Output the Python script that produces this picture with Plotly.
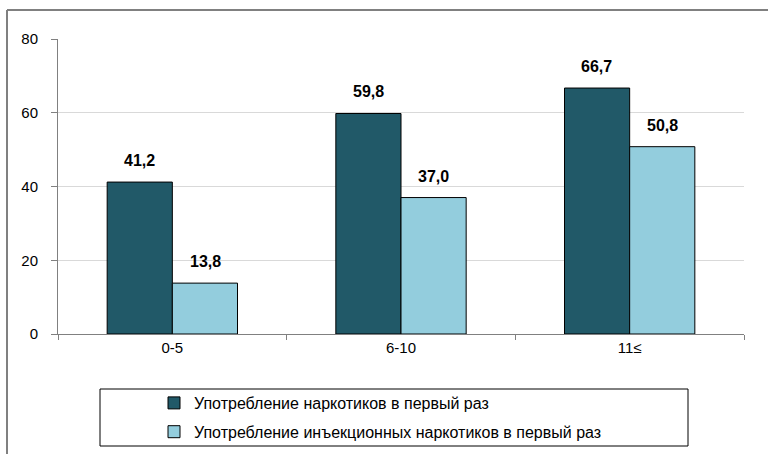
import plotly.graph_objects as go

# Categories (years of experience) and series values
categories = ["0-5", "6-10", "11≤"]
first_use = [41.2, 59.8, 66.7]
first_injection = [13.8, 37.0, 50.8]
series_names = [
    "Употребление наркотиков в первый раз",
    "Употребление инъекционных наркотиков в первый раз",
]
y_ticks = [0, 20, 40, 60, 80]

dark = "#215968"
light = "#93CDDD"
font_family = "Liberation Sans, Arial, sans-serif"

fig = go.Figure()
fig.add_trace(go.Bar(
    x=categories, y=first_use, name=series_names[0],
    marker=dict(color=dark, line=dict(color="#000000", width=1)),
    legendgroup="a",
))
fig.add_trace(go.Bar(
    x=categories, y=first_injection, name=series_names[1],
    marker=dict(color=light, line=dict(color="#000000", width=1)),
    legendgroup="b",
))

# Value labels above each bar
annotations = []
for offset, values in ((-0.143, first_use), (0.143, first_injection)):
    for i, v in enumerate(values):
        annotations.append(dict(
            x=i + offset, y=v, xref="x", yref="y",
            text=f"{v:.1f}".replace(".", ","),
            showarrow=False, yanchor="bottom", yshift=11,
            font=dict(family=font_family, size=16, color="#000000", weight="bold"),
        ))

fig.update_layout(
    width=768, height=454,
    margin=dict(l=58, r=24, t=39, b=120, autoexpand=False),
    paper_bgcolor="white", plot_bgcolor="white",
    barmode="group", bargap=0.43, bargroupgap=0,
    font=dict(family=font_family, size=15, color="#000000"),
    annotations=annotations,
    showlegend=True,
    legend=dict(
        x=(154 - 58) / 686, y=(334 - 386) / 295, xanchor="left", yanchor="top",
        bgcolor="rgba(0,0,0,0)", borderwidth=0,
        font=dict(family=font_family, size=16, color="#000000"),
        tracegroupgap=5, itemwidth=30,
    ),
    shapes=[
        # legend frame
        dict(type="rect", xref="paper", yref="paper",
             x0=(100 - 58) / 686, x1=(688 - 58) / 686,
             y0=(334 - 446) / 295, y1=(334 - 389) / 295,
             line=dict(color="#000000", width=1)),
        # outer chart frame (top and left edges)
        dict(type="line", xref="paper", yref="paper",
             x0=(7 - 58) / 686, x1=(768 - 58) / 686,
             y0=(334 - 10) / 295, y1=(334 - 10) / 295,
             line=dict(color="#808080", width=2)),
        dict(type="line", xref="paper", yref="paper",
             x0=(7 - 58) / 686, x1=(7 - 58) / 686,
             y0=(334 - 10) / 295, y1=(334 - 460) / 295,
             line=dict(color="#808080", width=2)),
    ],
)

fig.update_xaxes(
    type="category", categoryorder="array", categoryarray=categories,
    showline=True, linecolor="#808080", linewidth=1,
    ticks="outside", tickson="boundaries", ticklen=5, tickcolor="#808080",
    showgrid=False, tickfont=dict(size=15),
)
fig.update_yaxes(
    range=[0, 80], tickvals=y_ticks, ticktext=[str(t) for t in y_ticks],
    showline=True, linecolor="#808080", linewidth=1,
    ticks="outside", ticklen=6, tickcolor="#808080",
    showgrid=True, gridcolor="#D9D9D9", gridwidth=1,
    zeroline=False, tickfont=dict(size=15), ticklabelstandoff=10,
)

fig.write_html("out.html")
